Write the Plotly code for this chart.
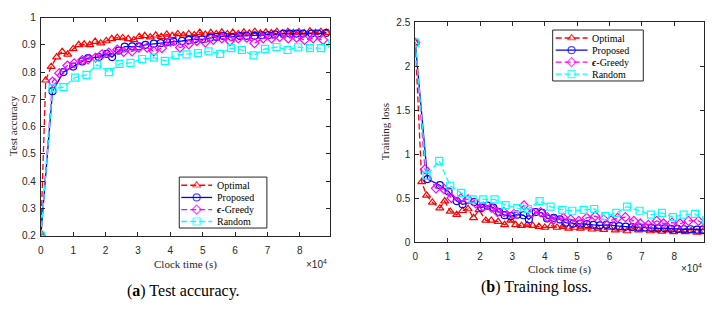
import plotly.graph_objects as go

# ---------------- data (clock time in units of 1e4 s) ----------------
acc_opt_x = [0, 0.15, 0.32, 0.49, 0.66, 0.83, 1.0, 1.17, 1.34, 1.51, 1.68, 1.85, 2.02, 2.19, 2.36, 2.53,
             2.70, 2.87, 3.04, 3.21, 3.38, 3.55, 3.72, 3.89, 4.06, 4.23, 4.40, 4.57, 4.74, 4.91, 5.08,
             5.25, 5.42, 5.59, 5.76, 5.93, 6.10, 6.27, 6.44, 6.61, 6.78, 6.95, 7.12, 7.29, 7.46, 7.63,
             7.80, 7.97, 8.14, 8.31, 8.48, 8.65, 8.82]
acc_opt_y = [0.21, 0.77, 0.82, 0.855, 0.875, 0.865, 0.885, 0.90, 0.902, 0.90, 0.912, 0.906, 0.914, 0.922,
             0.926, 0.925, 0.922, 0.918, 0.93, 0.933, 0.928, 0.935, 0.93, 0.938, 0.933, 0.94, 0.935, 0.94,
             0.936, 0.945, 0.938, 0.944, 0.94, 0.946, 0.94, 0.945, 0.94, 0.946, 0.942, 0.948, 0.942, 0.946,
             0.943, 0.948, 0.942, 0.948, 0.944, 0.947, 0.943, 0.95, 0.944, 0.948, 0.945]

acc_pro_x = [0, 0.36, 0.70, 1.0, 1.28, 1.46, 1.79, 2.03, 2.2, 2.41, 2.59, 2.82, 3.03, 3.23, 3.49, 3.7, 3.9,
             4.1, 4.36, 4.57, 4.77, 4.98, 5.23, 5.43, 5.64, 5.9, 6.15, 6.36, 6.6, 6.82, 7.02, 7.23, 7.49,
             7.69, 7.9, 8.1, 8.36, 8.56, 8.82]
acc_pro_y = [0.20, 0.73, 0.80, 0.82, 0.839, 0.851, 0.855, 0.867, 0.855, 0.879, 0.893, 0.894, 0.894, 0.90,
             0.904, 0.906, 0.909, 0.912, 0.914, 0.918, 0.921, 0.92, 0.926, 0.929, 0.932, 0.929, 0.932,
             0.933, 0.933, 0.935, 0.935, 0.938, 0.941, 0.941, 0.941, 0.941, 0.941, 0.941, 0.944]

acc_eps_x = [0, 0.36, 0.57, 0.82, 1.03, 1.28, 1.46, 1.69, 1.89, 2.1, 2.36, 2.56, 2.82, 3.03, 3.28, 3.49,
             3.74, 4.0, 4.3, 4.57, 4.82, 5.08, 5.33, 5.59, 5.84, 6.1, 6.36, 6.6, 6.87, 7.13, 7.38, 7.64,
             7.9, 8.15, 8.41, 8.72]
acc_eps_y = [0.20, 0.765, 0.796, 0.824, 0.832, 0.844, 0.847, 0.853, 0.865, 0.871, 0.882, 0.874, 0.876,
             0.89, 0.89, 0.876, 0.888, 0.912, 0.89, 0.902, 0.914, 0.909, 0.918, 0.924, 0.914, 0.924,
             0.926, 0.906, 0.924, 0.924, 0.929, 0.924, 0.926, 0.918, 0.924, 0.918]

acc_rnd_x = [0, 0.36, 0.70, 1.06, 1.41, 1.74, 2.1, 2.43, 2.77, 3.13, 3.49, 3.83, 4.16, 4.5, 4.85, 5.18,
             5.54, 5.88, 6.21, 6.57, 6.92, 7.28, 7.62, 7.95, 8.31, 8.65, 9.0]
acc_rnd_y = [0.20, 0.74, 0.745, 0.78, 0.79, 0.827, 0.80, 0.83, 0.834, 0.848, 0.853, 0.841, 0.862, 0.865,
             0.87, 0.876, 0.867, 0.888, 0.881, 0.861, 0.885, 0.892, 0.881, 0.891, 0.888, 0.888, 0.905]

loss_opt_x = [0, 0.2, 0.35, 0.53, 0.76, 0.91, 1.08, 1.28, 1.46, 1.63, 1.8, 1.97, 2.18, 2.35, 2.56, 2.76,
              2.95, 3.1, 3.28, 3.46, 3.63, 3.82, 4.0, 4.2, 4.38, 4.56, 4.74, 4.92, 5.1, 5.28, 5.46, 5.64,
              5.82, 6.0, 6.18, 6.36, 6.54, 6.72, 6.9, 7.08, 7.26, 7.44, 7.62, 7.8, 7.98, 8.16, 8.34,
              8.52, 8.7, 8.88]
loss_opt_y = [2.27, 0.687, 0.535, 0.455, 0.39, 0.47, 0.353, 0.316, 0.36, 0.38, 0.28, 0.37, 0.25, 0.25,
              0.236, 0.2, 0.25, 0.2, 0.19, 0.2, 0.19, 0.18, 0.17, 0.19, 0.17, 0.18, 0.16, 0.17, 0.16,
              0.175, 0.15, 0.16, 0.145, 0.17, 0.14, 0.15, 0.13, 0.16, 0.14, 0.15, 0.13, 0.14, 0.125,
              0.14, 0.12, 0.135, 0.12, 0.13, 0.115, 0.12]

loss_pro_x = [0, 0.38, 0.76, 1.03, 1.28, 1.46, 1.82, 2.04, 2.23, 2.41, 2.59, 2.76, 2.95, 3.15, 3.34, 3.51,
              3.72, 3.92, 4.07, 4.28, 4.47, 4.64, 4.88, 5.1, 5.3, 5.5, 5.7, 5.9, 6.1, 6.3, 6.5, 6.7, 6.9,
              7.1, 7.3, 7.5, 7.7, 7.9, 8.1, 8.3, 8.5, 8.7, 8.88]
loss_pro_y = [2.27, 0.72, 0.65, 0.578, 0.47, 0.433, 0.46, 0.396, 0.418, 0.396, 0.345, 0.31, 0.298, 0.316,
              0.309, 0.262, 0.345, 0.335, 0.273, 0.28, 0.262, 0.225, 0.215, 0.215, 0.207, 0.2, 0.195,
              0.2, 0.19, 0.185, 0.18, 0.175, 0.17, 0.17, 0.165, 0.16, 0.16, 0.155, 0.155, 0.15, 0.15,
              0.145, 0.145]

loss_eps_x = [0, 0.3, 0.64, 0.89, 1.12, 1.41, 1.63, 1.87, 2.1, 2.35, 2.54, 2.74, 3.05, 3.36, 3.61, 3.87,
              4.08, 4.28, 4.57, 4.8, 5.05, 5.3, 5.56, 5.82, 6.05, 6.25, 6.49, 6.75, 6.95, 7.2, 7.46, 7.67,
              7.93, 8.18, 8.44, 8.75, 9.0]
loss_eps_y = [2.27, 0.83, 0.615, 0.607, 0.505, 0.5, 0.49, 0.444, 0.407, 0.396, 0.345, 0.345, 0.324, 0.42,
              0.335, 0.345, 0.287, 0.262, 0.28, 0.262, 0.244, 0.28, 0.298, 0.262, 0.25, 0.28, 0.287,
              0.244, 0.215, 0.2, 0.244, 0.215, 0.225, 0.215, 0.244, 0.244, 0.19]

loss_rnd_x = [0, 0.35, 0.74, 1.08, 1.41, 1.77, 2.1, 2.45, 2.79, 3.15, 3.48, 3.84, 4.18, 4.54, 4.85, 5.2,
              5.53, 5.87, 6.21, 6.54, 6.93, 7.28, 7.62, 7.96, 8.29, 8.64, 8.98]
loss_rnd_y = [2.27, 0.76, 0.927, 0.644, 0.564, 0.49, 0.49, 0.49, 0.425, 0.389, 0.38, 0.47, 0.407, 0.37,
              0.36, 0.37, 0.38, 0.298, 0.335, 0.407, 0.36, 0.316, 0.335, 0.287, 0.316, 0.324, 0.25]

series_names = ["Optimal", "Proposed", "<b><i>ϵ</i></b>-Greedy", "Random"]
x_ticks = [0, 1, 2, 3, 4, 5, 6, 7, 8]
acc_ticks = [0.2, 0.3, 0.4, 0.5, 0.6, 0.7, 0.8, 0.9, 1]
acc_tick_text = ["0.2", "0.3", "0.4", "0.5", "0.6", "0.7", "0.8", "0.9", "1"]
loss_ticks = [0, 0.5, 1, 1.5, 2, 2.5]
loss_tick_text = ["0", "0.5", "1", "1.5", "2", "2.5"]

# ---------------- styles ----------------
styles = [
    dict(color="#FF0000", dash="6px,3px", symbol="triangle-up-open"),
    dict(color="#0000FF", dash="solid", symbol="circle-open"),
    dict(color="#FF00FF", dash="6px,3px", symbol="diamond-open"),
    dict(color="#00FFFF", dash="6px,3px", symbol="square-open"),
]

W, H = 712, 309
AX_COLOR = "#262626"
TICK_FONT = dict(family="Liberation Sans, Arial", size=10, color=AX_COLOR)
SERIF = "Liberation Serif, Times New Roman"
MSIZE = 7

fig = go.Figure()

acc_sets = [(acc_opt_x, acc_opt_y), (acc_pro_x, acc_pro_y), (acc_eps_x, acc_eps_y), (acc_rnd_x, acc_rnd_y)]
loss_sets = [(loss_opt_x, loss_opt_y), (loss_pro_x, loss_pro_y), (loss_eps_x, loss_eps_y), (loss_rnd_x, loss_rnd_y)]

def style_line(st):
    return dict(color=st["color"], width=1.3, dash=st["dash"])

def style_marker(st, size=MSIZE):
    return dict(symbol=st["symbol"], size=size, color=st["color"], line=dict(width=1.2, color=st["color"]))

for (xs, ys), name, st in zip(acc_sets, series_names, styles):
    fig.add_trace(go.Scatter(x=xs, y=ys, name=name, mode="lines+markers", xaxis="x", yaxis="y",
                             line=style_line(st), marker=style_marker(st), showlegend=False, cliponaxis=True))
for (xs, ys), name, st in zip(loss_sets, series_names, styles):
    fig.add_trace(go.Scatter(x=xs, y=ys, name=name, mode="lines+markers", xaxis="x2", yaxis="y2",
                             line=style_line(st), marker=style_marker(st), showlegend=False, cliponaxis=True))

# ---------------- legends (drawn on an invisible pixel-coordinate overlay axis) ----------------
legend_boxes = [
    dict(box=(177, 178, 265, 231), rows=[186.5, 199.2, 211.8, 224.2], line=(179, 210), text_x=213),
    dict(box=(552, 25, 643, 78), rows=[33.3, 46.0, 58.4, 70.8], line=(555, 587), text_x=589),
]
for lg in legend_boxes:
    x0, y0, x1, y1 = lg["box"]
    fig.add_shape(type="rect", xref="x3", yref="y3", x0=x0, y0=y0, x1=x1, y1=y1, layer="below",
                  fillcolor="white", line=dict(color=AX_COLOR, width=1))
    lx0, lx1 = lg["line"]
    for yc, name, st in zip(lg["rows"], series_names, styles):
        fig.add_trace(go.Scatter(x=[lx0, (lx0 + lx1) / 2, lx1], y=[yc, yc, yc], mode="lines+markers",
                                 xaxis="x3", yaxis="y3", showlegend=False, hoverinfo="skip",
                                 line=style_line(st),
                                 marker=dict(symbol=st["symbol"], size=[0, MSIZE, 0], color=st["color"],
                                             line=dict(width=1.2, color=st["color"]))))
        fig.add_annotation(text=name, xref="x3", yref="y3", x=lg["text_x"], y=yc, xanchor="left",
                           yanchor="middle", showarrow=False,
                           font=dict(family=SERIF, size=10, color="#000000"))

def px_x(p):
    return p / W

def px_y(p):
    return 1 - p / H

axis_common = dict(
    showline=True, linecolor=AX_COLOR, linewidth=1, mirror="ticks",
    ticks="inside", ticklen=4, tickcolor=AX_COLOR, tickwidth=1,
    showgrid=False, zeroline=False, tickfont=TICK_FONT,
)

fig.update_layout(
    width=W, height=H, margin=dict(l=0, r=0, t=0, b=0),
    paper_bgcolor="white", plot_bgcolor="rgba(0,0,0,0)", showlegend=False,
    xaxis=dict(domain=[px_x(38), px_x(328)], range=[0, 8.92], tickvals=x_ticks, anchor="y",
               ticklabelstandoff=5, **axis_common),
    yaxis=dict(domain=[px_y(239), px_y(12)], range=[0.2, 1], tickvals=acc_ticks, ticktext=acc_tick_text,
               anchor="x", ticklabelstandoff=2, **axis_common),
    xaxis2=dict(domain=[px_x(414), px_x(704)], range=[0, 8.92], tickvals=x_ticks, anchor="y2",
                ticklabelstandoff=5, **axis_common),
    yaxis2=dict(domain=[px_y(246), px_y(17)], range=[0, 2.5], tickvals=loss_ticks, ticktext=loss_tick_text,
                anchor="x2", ticklabelstandoff=2, **axis_common),
    xaxis3=dict(domain=[0, 1], range=[0, W], visible=False, fixedrange=True, anchor="y3"),
    yaxis3=dict(domain=[0, 1], range=[H, 0], visible=False, fixedrange=True, anchor="x3"),
)

annotations = [
    dict(text="Clock time (s)", x=px_x(183), y=px_y(269), font=dict(family=SERIF, size=11, color=AX_COLOR)),
    dict(text="Clock time (s)", x=px_x(559), y=px_y(274), font=dict(family=SERIF, size=11, color=AX_COLOR)),
    dict(text="Test accuracy", x=px_x(10), y=px_y(125), textangle=-90, font=dict(family=SERIF, size=11, color=AX_COLOR)),
    dict(text="Training loss", x=px_x(384), y=px_y(131), textangle=-90, font=dict(family=SERIF, size=11, color=AX_COLOR)),
    dict(text="×10<sup>4</sup>", x=px_x(327), y=px_y(268), xanchor="right",
         font=dict(family="Liberation Sans, Arial", size=10, color=AX_COLOR)),
    dict(text="×10<sup>4</sup>", x=px_x(704), y=px_y(273), xanchor="right",
         font=dict(family="Liberation Sans, Arial", size=10, color=AX_COLOR)),
    dict(text="(<b>a</b>) Test accuracy.", x=px_x(181), y=px_y(296), font=dict(family=SERIF, size=16, color="#000000")),
    dict(text="(<b>b</b>) Training loss.", x=px_x(536), y=px_y(292), font=dict(family=SERIF, size=16, color="#000000")),
]
for a in annotations:
    a.setdefault("xanchor", "center")
    a.update(xref="paper", yref="paper", yanchor="middle", showarrow=False)
    fig.add_annotation(**a)

fig.write_html("out.html")
